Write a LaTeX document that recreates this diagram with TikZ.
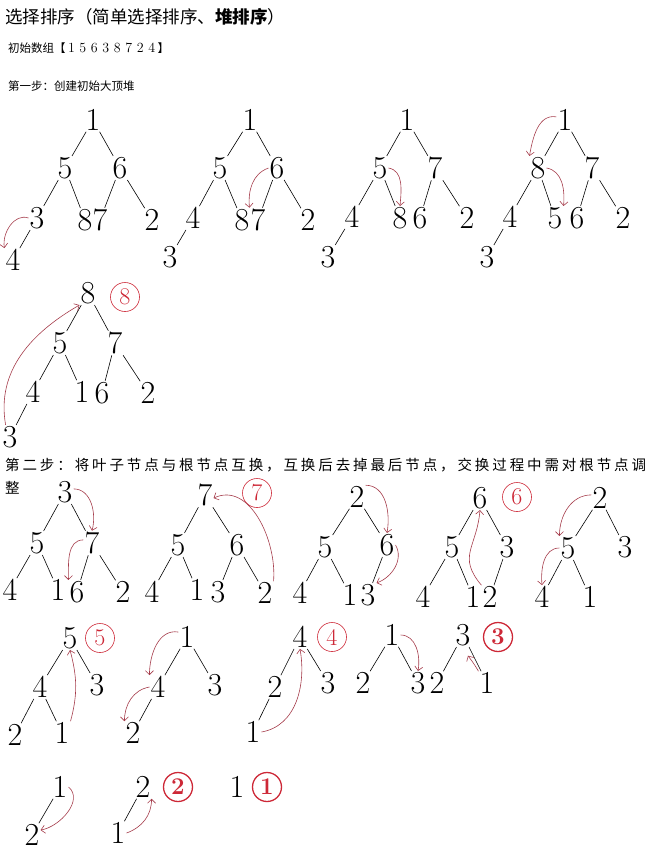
\documentclass[tikz,border=0pt]{standalone}
\usepackage{fontspec}
\usepackage{tikz}
\usetikzlibrary{arrows.meta}
\newfontfamily\cjk{Noto Sans CJK SC}
\newfontfamily\cjkwide[LetterSpace=20]{Noto Sans CJK SC}
\definecolor{arrowred}{RGB}{165,60,75}
\definecolor{markred}{RGB}{205,40,55}

\begin{document}
\begin{tikzpicture}[x=1pt,y=1pt]
\tikzstyle{num}=[inner sep=1pt, font=\fontsize{32}{32}\selectfont]
\tikzstyle{stepno}=[circle, minimum size=29pt, inner sep=0pt, draw=markred, text=markred, line width=0.6pt, font=\fontsize{24}{24}\selectfont]
\tikzstyle{stepnob}=[stepno, line width=1.3pt, font=\fontsize{24}{24}\selectfont\bfseries]
\tikzstyle{tree}=[line width=0.6pt]
\tikzstyle{swaparrow}=[-{Straight Barb[length=4pt,width=8pt]}, draw=arrowred, line width=0.6pt]
\tikzstyle{txt}=[anchor=west, inner sep=0pt]
\useasboundingbox (0,0) rectangle (650,-855);

	% headings
	\node[txt] (t_title) at (5,-17) {\fontsize{17.5}{17.5}\selectfont\cjk 选择排序（简单选择排序、{\bfseries 堆排序}）};
	\node[txt] (t_init) at (8,-48) {\fontsize{11.5}{11.5}\selectfont{\cjk 初始数组【}\fontsize{14}{14}\selectfont\makebox[0.82em]{1}\makebox[0.82em]{5}\makebox[0.82em]{6}\makebox[0.82em]{3}\makebox[0.82em]{8}\makebox[0.82em]{7}\makebox[0.82em]{2}\makebox[0.82em]{4}\fontsize{11.5}{11.5}\selectfont{\cjk 】}};
	\node[txt] (t_step1) at (8,-86) {\fontsize{11.5}{11.5}\selectfont\cjk 第一步：创建初始大顶堆};
	\node[txt] (t_step2) at (5,-465) {\fontsize{14.5}{14.5}\selectfont\cjkwide 第二步：将叶子节点与根节点互换，互换后去掉最后节点，交换过程中需对根节点调};
	\node[txt] (t_step2b) at (5,-488) {\fontsize{14.5}{14.5}\selectfont\cjkwide 整};

	% step 1: build the heap
	\node[num] (h1_1) at (93,-120) {1};
	\node[num] (h1_2) at (65,-168) {5};
	\node[num] (h1_3) at (120,-168) {6};
	\node[num] (h1_4) at (37,-218) {3};
	\node[num] (h1_5) at (85,-220) {8};
	\node[num] (h1_6) at (100,-220) {7};
	\node[num] (h1_7) at (152,-220) {2};
	\node[num] (h1_8) at (13,-260) {4};

	\node[num] (h2_1) at (250,-120) {1};
	\node[num] (h2_2) at (220,-168) {5};
	\node[num] (h2_3) at (277,-168) {6};
	\node[num] (h2_4) at (193,-218) {4};
	\node[num] (h2_5) at (242,-220) {8};
	\node[num] (h2_6) at (258,-220) {7};
	\node[num] (h2_7) at (308,-220) {2};
	\node[num] (h2_8) at (170,-257) {3};

	\node[num] (h3_1) at (407,-120) {1};
	\node[num] (h3_2) at (380,-168) {5};
	\node[num] (h3_3) at (435,-168) {7};
	\node[num] (h3_4) at (352,-217) {4};
	\node[num] (h3_5) at (400,-218) {8};
	\node[num] (h3_6) at (420,-218) {6};
	\node[num] (h3_7) at (467,-218) {2};
	\node[num] (h3_8) at (328,-257) {3};

	\node[num] (h4_1) at (565,-120) {1};
	\node[num] (h4_2) at (538,-168) {8};
	\node[num] (h4_3) at (592,-168) {7};
	\node[num] (h4_4) at (510,-217) {4};
	\node[num] (h4_5) at (555,-218) {5};
	\node[num] (h4_6) at (577,-218) {6};
	\node[num] (h4_7) at (623,-218) {2};
	\node[num] (h4_8) at (487,-257) {3};

	\node[num] (h5_1) at (88,-293) {8};
	\node[num] (h5_2) at (60,-343) {5};
	\node[num] (h5_3) at (115,-343) {7};
	\node[num] (h5_4) at (33,-392) {4};
	\node[num] (h5_5) at (82,-392) {1};
	\node[num] (h5_6) at (102,-393) {6};
	\node[num] (h5_7) at (148,-393) {2};
	\node[num] (h5_8) at (10,-437) {3};
	\node[stepno] (no_8) at (125,-297) {8};

	% step 2: swap root and last leaf
	\node[num] (s1_1) at (65,-492) {3};
	\node[num] (s1_2) at (37,-543) {5};
	\node[num] (s1_3) at (92,-543) {7};
	\node[num] (s1_4) at (10,-590) {4};
	\node[num] (s1_5) at (58,-590) {1};
	\node[num] (s1_6) at (77,-592) {6};
	\node[num] (s1_7) at (123,-592) {2};

	\node[num] (s2_1) at (205,-495) {7};
	\node[num] (s2_2) at (178,-545) {5};
	\node[num] (s2_3) at (237,-545) {6};
	\node[num] (s2_4) at (152,-592) {4};
	\node[num] (s2_5) at (197,-590) {1};
	\node[num] (s2_6) at (218,-592) {3};
	\node[num] (s2_7) at (265,-593) {2};
	\node[stepno] (no_7) at (257,-493) {7};

	\node[num] (s3_1) at (357,-497) {2};
	\node[num] (s3_2) at (325,-547) {5};
	\node[num] (s3_3) at (387,-545) {6};
	\node[num] (s3_4) at (300,-593) {4};
	\node[num] (s3_5) at (350,-595) {1};
	\node[num] (s3_6) at (368,-595) {3};

	\node[num] (s4_1) at (480,-498) {6};
	\node[num] (s4_2) at (452,-547) {5};
	\node[num] (s4_3) at (507,-547) {3};
	\node[num] (s4_4) at (423,-597) {4};
	\node[num] (s4_5) at (473,-597) {1};
	\node[num] (s4_6) at (490,-597) {2};
	\node[stepno] (no_6) at (517,-497) {6};

	\node[num] (s5_1) at (600,-498) {2};
	\node[num] (s5_2) at (568,-548) {5};
	\node[num] (s5_3) at (625,-547) {3};
	\node[num] (s5_4) at (542,-597) {4};
	\node[num] (s5_5) at (590,-597) {1};

	\node[num] (s6_1) at (70,-638) {5};
	\node[num] (s6_2) at (40,-687) {4};
	\node[num] (s6_3) at (97,-685) {3};
	\node[num] (s6_4) at (15,-735) {2};
	\node[num] (s6_5) at (62,-733) {1};
	\node[stepno] (no_5) at (100,-638) {5};

	\node[num] (s7_1) at (187,-637) {1};
	\node[num] (s7_2) at (158,-687) {4};
	\node[num] (s7_3) at (215,-685) {3};
	\node[num] (s7_4) at (133,-733) {2};

	\node[num] (s8_1) at (300,-637) {4};
	\node[num] (s8_2) at (275,-687) {2};
	\node[num] (s8_3) at (328,-683) {3};
	\node[num] (s8_4) at (253,-732) {1};
	\node[stepno] (no_4) at (332,-637) {4};

	\node[num] (s9_1) at (392,-635) {1};
	\node[num] (s9_2) at (363,-683) {2};
	\node[num] (s9_3) at (418,-683) {3};

	\node[num] (s10_1) at (463,-635) {3};
	\node[num] (s10_2) at (437,-683) {2};
	\node[num] (s10_3) at (487,-683) {1};
	\node[stepnob] (no_3) at (498,-637) {3};

	\node[num] (s11_1) at (60,-787) {1};
	\node[num] (s11_2) at (32,-835) {2};

	\node[num] (s12_1) at (143,-787) {2};
	\node[num] (s12_2) at (118,-833) {1};
	\node[stepnob] (no_2) at (178,-787) {2};

	\node[num] (s13_1) at (237,-787) {1};
	\node[stepnob] (no_1) at (267,-787) {1};

	\path[tree]
		(h1_1) edge (h1_2) (h1_1) edge (h1_3) (h1_2) edge (h1_4) (h1_2) edge (h1_5)
		(h1_3) edge (h1_6) (h1_3) edge (h1_7) (h1_4) edge (h1_8)
		(h2_1) edge (h2_2) (h2_1) edge (h2_3) (h2_2) edge (h2_4) (h2_2) edge (h2_5)
		(h2_3) edge (h2_6) (h2_3) edge (h2_7) (h2_4) edge (h2_8)
		(h3_1) edge (h3_2) (h3_1) edge (h3_3) (h3_2) edge (h3_4) (h3_2) edge (h3_5)
		(h3_3) edge (h3_6) (h3_3) edge (h3_7) (h3_4) edge (h3_8)
		(h4_1) edge (h4_2) (h4_1) edge (h4_3) (h4_2) edge (h4_4) (h4_2) edge (h4_5)
		(h4_3) edge (h4_6) (h4_3) edge (h4_7) (h4_4) edge (h4_8)
		(h5_1) edge (h5_2) (h5_1) edge (h5_3) (h5_2) edge (h5_4) (h5_2) edge (h5_5)
		(h5_3) edge (h5_6) (h5_3) edge (h5_7) (h5_4) edge (h5_8);
	\path[tree]
		(s1_1) edge (s1_2) (s1_1) edge (s1_3) (s1_2) edge (s1_4) (s1_2) edge (s1_5)
		(s1_3) edge (s1_6) (s1_3) edge (s1_7)
		(s2_1) edge (s2_2) (s2_1) edge (s2_3) (s2_2) edge (s2_4) (s2_2) edge (s2_5)
		(s2_3) edge (s2_6) (s2_3) edge (s2_7)
		(s3_1) edge (s3_2) (s3_1) edge (s3_3) (s3_2) edge (s3_4) (s3_2) edge (s3_5)
		(s3_3) edge (s3_6)
		(s4_1) edge (s4_2) (s4_1) edge (s4_3) (s4_2) edge (s4_4) (s4_2) edge (s4_5)
		(s4_3) edge (s4_6)
		(s5_1) edge (s5_2) (s5_1) edge (s5_3) (s5_2) edge (s5_4) (s5_2) edge (s5_5)
		(s6_1) edge (s6_2) (s6_1) edge (s6_3) (s6_2) edge (s6_4) (s6_2) edge (s6_5)
		(s7_1) edge (s7_2) (s7_1) edge (s7_3) (s7_2) edge (s7_4)
		(s8_1) edge (s8_2) (s8_1) edge (s8_3) (s8_2) edge (s8_4)
		(s9_1) edge (s9_2) (s9_1) edge (s9_3)
		(s10_1) edge (s10_2) (s10_1) edge (s10_3)
		(s11_1) edge (s11_2)
		(s12_1) edge (s12_2);

	% swaps
	\draw[swaparrow] (h1_4.west) to[out=160,in=100] (h1_8.north west);
	\draw[swaparrow] (h2_3.west) to[out=200,in=95] (h2_6.north west);
	\draw[swaparrow] (h3_2.east) to[out=-10,in=85] (h3_5.north);
	\draw[swaparrow] (h4_1.160) to[out=170,in=80] (h4_2.north west);
	\draw[swaparrow] (h4_2.east) to[out=-10,in=85] (h4_5.north east);
	\draw[swaparrow] (h5_8.110) to[out=100,in=210] (h5_1.south west);
	\draw[swaparrow] (s1_1.20) to[out=0,in=75] (s1_3.north);
	\draw[swaparrow] (s1_3.160) to[out=180,in=90] (s1_6.north west);
	\draw[swaparrow] (s2_7.north east) to[out=85,in=25] (s2_1.-20);
	\draw[swaparrow] (s3_1.north east) to[out=0,in=80] (s3_3.north);
	\draw[swaparrow] (s3_3.east) to[out=-60,in=20] (s3_6.north east);
	\draw[swaparrow] (s4_6.north west) to[out=130,in=-95,looseness=1.3] (s4_1.south);
	\draw[swaparrow] (s5_1.160) to[out=180,in=90] (s5_2.north west);
	\draw[swaparrow] (s5_2.west) to[out=180,in=95] (s5_4.north);
	\draw[swaparrow] (s6_5.north east) to[out=75,in=-75] (s6_1.south);
	\draw[swaparrow] (s7_1.150) to[out=170,in=90] (s7_2.north west);
	\draw[swaparrow] (s7_2.west) to[out=190,in=90] (s7_4.north west);
	\draw[swaparrow] (s8_4.east) to[out=10,in=-80] (s8_1.south);
	\draw[swaparrow] (s9_1.east) to[out=0,in=80] (s9_3.north);
	\draw[swaparrow, shorten >=10pt] (s10_3.north west) to[out=120,in=-60] (s10_1.south);
	\draw[swaparrow] (s11_1.east) to[out=-40,in=10] (s11_2.30);
	\draw[swaparrow] (s12_2.east) to[out=20,in=-90] (s12_1.south east);
\end{tikzpicture}
\end{document}
